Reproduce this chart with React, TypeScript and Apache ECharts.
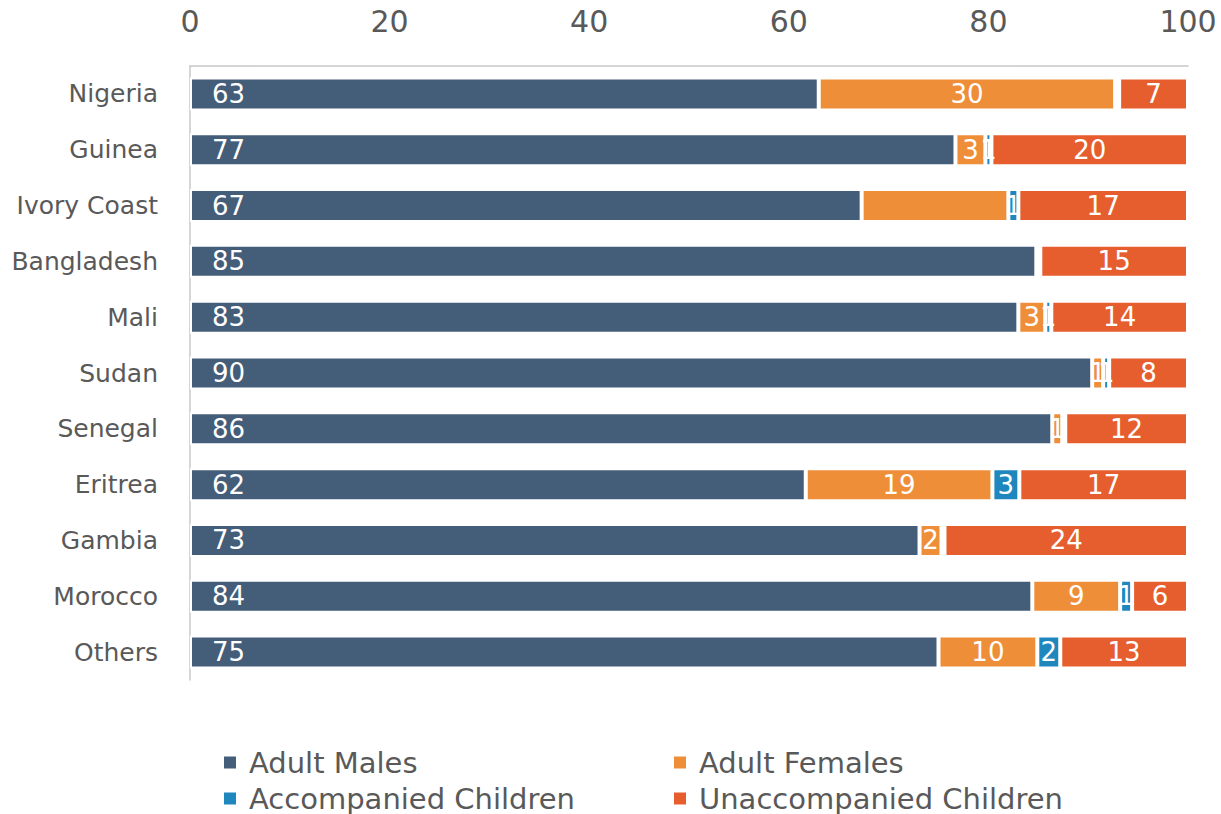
import React, { useEffect, useRef } from "react";
import * as echarts from "echarts";

// Share of arrivals (%) by group, per country of origin
const categories = [
  "Nigeria",
  "Guinea",
  "Ivory Coast",
  "Bangladesh",
  "Mali",
  "Sudan",
  "Senegal",
  "Eritrea",
  "Gambia",
  "Morocco",
  "Others",
];
const adultMales = [63.0, 76.7, 67.3, 84.8, 83.0, 90.4, 86.4, 61.7, 73.1, 84.4, 75.0];
const adultFemales = [29.7, 3.0, 14.7, 0.1, 2.7, 1.1, 1.0, 18.7, 2.2, 8.8, 9.9];
const accompaniedChildren = [0.4, 0.6, 1.0, 0.3, 0.6, 0.6, 0.3, 2.7, 0.3, 1.2, 2.3];
const unaccompaniedChildren = [6.9, 19.7, 17.0, 14.8, 13.7, 7.9, 12.3, 16.9, 24.4, 5.6, 12.8];

const seriesNames = [
  "Adult Males",
  "Adult Females",
  "Accompanied Children",
  "Unaccompanied Children",
];
const seriesColors = ["#445D79", "#EF8E38", "#1F87BE", "#E65E2E"];
const xTicks = { min: 0, max: 100, interval: 20 };
// Bars whose value label is left off
const unlabeledFemales = ["Ivory Coast"];

const FONT = "DejaVu Sans";
const TEXT_COLOR = "#595959";

export default function App() {
  const ref = useRef<HTMLDivElement>(null);

  useEffect(() => {
    if (!ref.current) return;
    const chart = echarts.init(ref.current, undefined, { renderer: "svg" });

    const valueLabel = (p: any) => {
      const v = Math.round(p.value);
      return v === 0 ? "" : String(v);
    };

    const makeSeries = (name: string, values: number[], idx: number) => ({
      name,
      type: "bar",
      stack: "total",
      barWidth: 33,
      data: values.map((v, i) => {
        if (idx === 1 && unlabeledFemales.includes(categories[i])) {
          return { value: v, label: { show: false } };
        }
        return v;
      }),
      itemStyle: {
        color: seriesColors[idx],
        borderColor: "#ffffff",
        borderWidth: 2,
      },
      label: {
        show: true,
        position: idx === 0 ? "insideLeft" : "inside",
        distance: 22,
        color: "#ffffff",
        fontFamily: FONT,
        fontSize: 26,
        formatter: valueLabel,
      },
    });

    // Two-column legend, one item per block
    const legendPos = [
      { left: 217, top: 743 },
      { left: 667, top: 743 },
      { left: 217, top: 779 },
      { left: 667, top: 779 },
    ];

    chart.setOption({
      animation: false,
      grid: { left: 190, right: 33, top: 66, bottom: 134, containLabel: false },
      xAxis: {
        type: "value",
        position: "top",
        min: xTicks.min,
        max: xTicks.max,
        interval: xTicks.interval,
        axisLine: { show: true, lineStyle: { color: "#C8C8C8", width: 1.5 } },
        axisTick: { show: false },
        splitLine: { show: false },
        axisLabel: {
          margin: 30,
          color: TEXT_COLOR,
          fontFamily: FONT,
          fontSize: 30,
        },
      },
      yAxis: {
        type: "category",
        inverse: true,
        data: categories,
        axisLine: { show: true, lineStyle: { color: "#C8C8C8", width: 1.5 } },
        axisTick: { show: false },
        axisLabel: {
          margin: 32,
          color: TEXT_COLOR,
          fontFamily: FONT,
          fontSize: 25,
        },
      },
      legend: seriesNames.map((name, i) => ({
        data: [name],
        left: legendPos[i].left,
        top: legendPos[i].top,
        icon: "rect",
        itemWidth: 14,
        itemHeight: 14,
        selectedMode: false,
        textStyle: {
          color: TEXT_COLOR,
          fontFamily: FONT,
          fontSize: 29,
          lineHeight: 28,
          padding: [0, 0, 0, 7],
        },
      })),
      series: [
        makeSeries(seriesNames[0], adultMales, 0),
        makeSeries(seriesNames[1], adultFemales, 1),
        makeSeries(seriesNames[2], accompaniedChildren, 2),
        makeSeries(seriesNames[3], unaccompaniedChildren, 3),
      ],
    });

    return () => chart.dispose();
  }, []);

  return (
    <div
      ref={ref}
      style={{
        position: "fixed",
        left: 0,
        top: 0,
        width: 1221,
        height: 814,
        background: "#ffffff",
      }}
    />
  );
}
